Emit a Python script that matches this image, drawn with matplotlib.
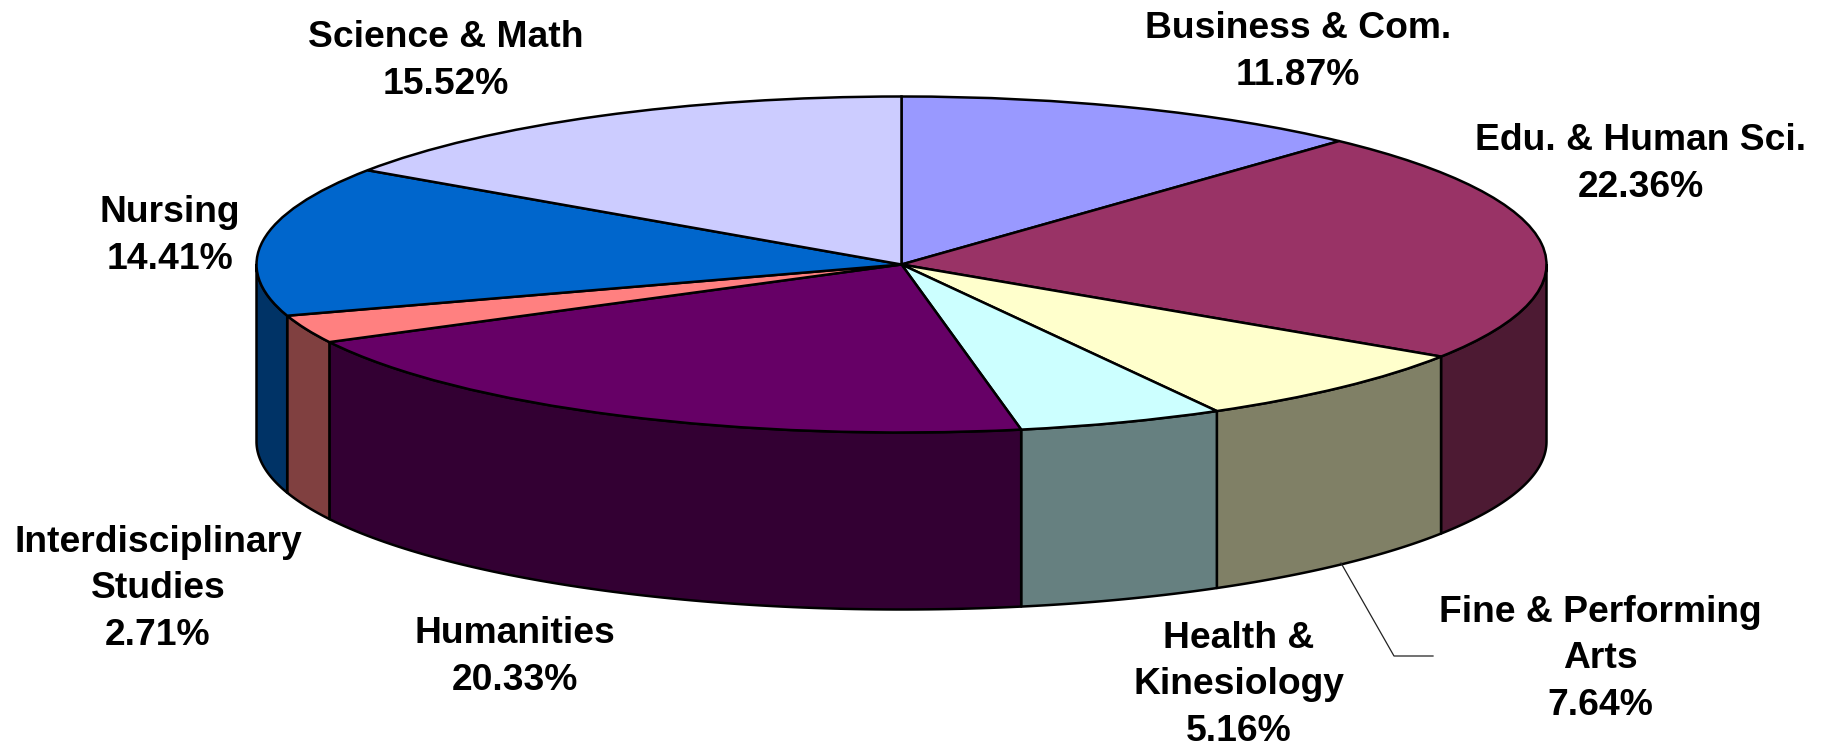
# 3D looking pie of enrolment by college
import matplotlib
matplotlib.use("Agg")
import matplotlib.pyplot as plt
from matplotlib.patches import Polygon
import numpy as np

plt.rcParams['font.family'] = ['Liberation Sans', 'DejaVu Sans']

# Data
colleges = ["Business & Com.", "Edu. & Human Sci.", "Fine & Performing\nArts",
            "Health &\nKinesiology", "Humanities", "Interdisciplinary\nStudies",
            "Nursing", "Science & Math"]
shares = [11.87, 22.36, 7.64, 5.16, 20.33, 2.71, 14.41, 15.52]

top_colors = ["#9999FF", "#993366", "#FFFFCC", "#CCFFFF",
              "#660066", "#FF8080", "#0066CC", "#CCCCFF"]
side_colors = ["#4D4D80", "#4D1A33", "#808066", "#668080",
               "#330033", "#804040", "#003366", "#666680"]

# label centres in figure pixels
label_pos = [(1298, 52), (1641, 164), (1600, 659), (1239, 685),
             (515, 657), (158, 589), (170, 236), (446, 61)]

W, H = 1829, 745
cx, cy = 901.5, 264.5
rx, ry = 645, 168
depth = 177 / ry

fig = plt.figure(figsize=(W / 100, H / 100), dpi=100)
ax = fig.add_axes([0, 0, 1, 1])

edge = dict(edgecolor="black", linewidth=1.8)

# Side wall first, only the front half of the ellipse is visible
cum = np.cumsum([0] + shares) / 100.0
for i in range(len(shares)):
    a0 = 90 - 360 * cum[i]
    a1 = 90 - 360 * cum[i + 1]
    # keep the part that lies in -180..0 degrees
    a0 = min(a0, 0)
    a1 = max(a1, -180)
    if a0 <= a1:
        continue
    t = np.radians(np.linspace(a0, a1, 80))
    x = np.cos(t)
    y = np.sin(t)
    pts = np.column_stack([np.r_[x, x[::-1]], np.r_[y, y[::-1] - depth]])
    ax.add_patch(Polygon(pts, closed=True, facecolor=side_colors[i],
                         joinstyle="round", **edge))

# Top face
ax.pie(shares, colors=top_colors, startangle=90, counterclock=False,
       radius=1, wedgeprops=edge)
ax.set_aspect("auto")
ax.set_xlim(-cx / rx, (W - cx) / rx)
ax.set_ylim((cy - H) / ry, cy / ry)
ax.axis("off")

# Leader line for the Fine & Performing Arts label
leader_x = [1341, 1394, 1433]
leader_y = [563, 656, 656]
ax.plot([(v - cx) / rx for v in leader_x], [(cy - v) / ry for v in leader_y],
        color="#222222", linewidth=0.9, zorder=1)

for name, share, (px, py) in zip(colleges, shares, label_pos):
    fig.text(px / W, 1 - py / H, f"{name}\n{share:.2f}%", ha="center",
             va="center", fontsize=26.8, fontweight="bold", color="black",
             linespacing=1.44)

fig.savefig("out.png", dpi=100)
